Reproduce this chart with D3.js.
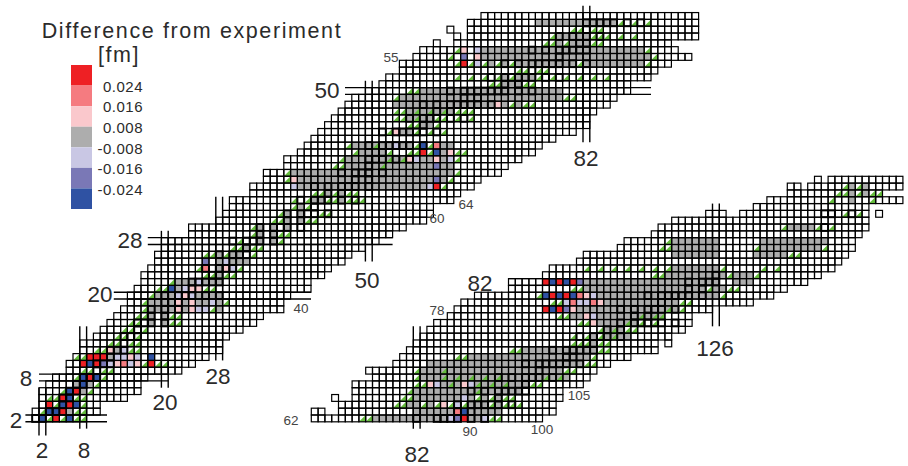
<!DOCTYPE html>
<html>
<head>
<meta charset="utf-8">
<script src="https://cdn.jsdelivr.net/npm/d3@7"></script>
<style>
  body { margin: 0; background: #fff; }
  text { font-family: "Liberation Sans", Arial, sans-serif; fill: #2b2b2b; }
</style>
</head>
<body>
<svg id="chart" width="908" height="466"></svg>
<script>
// rows of the nuclide chart: [Z, first N, last N]
const rows = [
  [2,1,8],[3,1,10],[4,2,10],[5,2,14],[6,2,16],[7,3,16],[8,4,17],[9,6,22],[10,6,24],[11,7,26],[12,8,28],[13,8,28],
  [14,10,29],[15,11,31],[16,12,33],[17,13,34],[18,14,37],[19,15,37],[20,15,38],[21,16,41],[22,17,41],[23,17,43],
  [24,18,44],[25,19,46],[26,19,47],[27,20,49],[28,20,51],[29,24,53],[30,24,55],[31,28,58],[32,29,59],[33,30,59],
  [34,30,62],[35,33,63],[36,33,65],[37,35,66],[38,35,69],[39,38,70],[40,38,72],[41,40,74],[42,41,75],[43,42,77],
  [44,43,80],[45,44,82],[46,45,82],[47,46,83],[48,47,85],[49,48,86],[50,50,88],[51,52,88],[52,53,91],[53,55,92],
  [54,55,94],[55,57,97],[56,58,95],[57,63,94],[57,60,60],[58,65,98],[58,63,63],[59,65,98],[59,62,62],[60,65,98],[61,67,98],
  [62,67,100],[63,71,102],[63,67,68],[64,71,102],[65,73,103],[65,70,70],[66,73,103],[67,73,106],[68,76,107],[69,75,108],
  [70,79,110],[71,80,113],[72,81,117],[73,82,117],[73,119,119],[74,83,119],[75,84,121],[76,85,122],[77,87,122],[78,88,125],
  [79,89,131],[80,91,134],[81,96,136],[82,96,139],[83,101,141],[84,102,143],[85,106,144],[86,107,145],[87,112,146],
  [88,113,146],[89,117,147],[90,118,148],[91,120,148],[92,130,148],[92,125,127],[92,150,150],[93,132,148],[94,134,153],
  [95,137,150],[96,137,138],[96,140,153],[97,141,141],[97,143,153]
];

// runs inside +-0.008 fm: [Z, first N, last N]
const grayRuns = [
  [3,6,6],[6,8,8],[7,7,7],[7,9,9],[11,12,12],[12,13,13],[16,18,18],[16,20,20],[17,18,18],[17,20,20],[18,18,21],[18,23,23],[18,28,28],
  [19,18,21],[19,23,23],[19,25,26],[19,28,28],[20,19,21],[20,25,28],[21,22,22],[22,22,24],[22,26,28],[23,28,28],[24,28,28],
  [25,28,28],[25,30,32],[26,28,28],[26,30,31],[27,32,32],[28,34,34],[28,36,36],[29,34,34],[29,36,36],[30,34,34],[30,36,36],[30,38,38],
  [31,38,38],[31,40,40],[32,38,38],[32,40,40],[33,40,40],[34,42,43],[34,46,46],[35,44,44],[35,46,46],
  [36,40,58],[37,40,59],[37,61,61],[38,39,62],[39,47,59],[39,61,62],[40,47,55],[40,58,59],[40,61,61],[41,49,52],[41,61,61],
  [42,48,53],[42,55,56],[42,61,62],[44,55,56],[45,58,59],[46,56,59],[47,56,62],[48,54,68],[48,70,70],[48,72,72],[49,55,78],[50,58,78],
  [51,70,72],[52,70,70],[52,72,74],[54,68,68],[54,70,70],[54,72,80],[54,82,90],[55,67,91],[56,67,90],[57,78,78],[57,80,82],[58,78,82],[60,75,86],
  [62,76,86],[62,90,91],[63,82,87],[63,90,94],[64,81,82],[64,84,84],[64,90,92],[64,94,94],[65,82,88],[65,90,90],[65,92,92],[65,94,94],
  [66,82,97],[67,86,88],[67,91,98],[68,83,104],[69,83,103],[70,84,106],[71,90,107],[72,98,108],[73,108,108],[74,108,108],[74,110,113],
  [75,110,112],[76,109,114],[77,105,106],[77,109,118],[78,106,120],[79,110,120],[80,109,126],[81,107,124],[81,126,127],[82,107,126],[82,129,131],
  [83,119,127],[83,129,131],[84,120,126],[86,120,126],[86,132,136],[87,120,126],[87,133,141],[88,120,126],[88,133,142],[90,137,140],[94,146,146],[95,146,146],[95,148,148],[96,146,146],[96,148,148]
];

// cells outside the gray band: [Z, N, level] with level 0..2 above, 4..6 below
const colored = [
  [2,2,6],[2,4,0],[2,6,6],[3,3,6],[3,4,6],[3,5,0],[4,3,0],[4,5,6],[4,6,0],[4,7,6],[5,5,0],[5,6,6],[6,6,6],[6,7,0],[7,8,6],
  [8,8,6],[8,9,0],[8,10,6],[10,8,0],[10,9,6],[10,10,0],[10,11,5],[10,12,4],[10,13,2],[10,14,1],[10,15,4],[10,16,2],[10,18,0],
  [11,9,0],[11,10,0],[11,11,0],[11,13,4],[11,14,4],[11,15,2],[11,16,4],[11,18,6],[12,12,2],[12,14,4],
  [18,22,2],[18,24,2],[18,25,4],[18,26,4],[19,22,2],[19,24,2],[19,27,4],[20,22,4],[20,23,2],[20,24,4],[21,21,6],[21,23,4],[21,24,2],[21,25,2],
  [22,25,4],[24,26,1],[24,29,2],[24,30,4],[25,26,5],[25,29,4],
  [36,39,4],[36,59,4],[36,60,0],[37,39,2],[37,60,5],[39,60,5],[40,56,2],[40,57,4],[40,60,2],[40,62,4],[41,58,0],[41,60,6],[41,62,2],
  [42,54,4],[42,58,6],[42,60,1],[44,54,2],[48,69,2],[54,64,0],[54,66,4],[55,64,5],[55,66,2],[56,64,2],[56,66,4],
  [62,87,4],[62,88,5],[62,89,0],[62,92,4],[63,88,1],[63,89,6],[64,86,2],[64,88,4],[65,89,4],[67,84,2],[67,85,4],[67,89,2],[67,90,4],
  [76,108,2],[77,107,2],[77,108,4],[78,101,0],[78,102,6],[78,103,0],[78,104,5],[78,105,2],
  [79,104,4],[79,105,1],[79,106,4],[79,107,4],[79,108,1],[79,109,2],
  [80,101,6],[80,102,0],[80,103,6],[80,104,0],[80,105,6],[80,106,1],[80,107,2],[80,108,4],
  [82,101,0],[82,102,6],[82,103,0],[82,104,6],[82,105,0],[82,106,5]
];

// half-green cells: [Z, N list]
const greens = [
  [2,[3,5,7,8]],[3,[2,7,8]],[4,[4,8]],[5,[3,4,7,8]],[6,[5,9]],[7,[10]],[8,[7,11]],[9,[8,9,11,12]],[10,[17,19,20]],[11,[7,8]],[12,[10,11,15,16]],
  [13,[12,13,15,16]],[14,[13,14,16]],[15,[14,15,17]],[16,[15,16,21,22]],[17,[16,17,21,22]],[18,[17,27]],[19,[17,29]],[20,[18]],[21,[19,20,26,27]],[22,[21]],
  [23,[26,27,29,30]],[24,[25,31]],[26,[26,27,29,33]],[27,[30,31,33,34]],[28,[31,37]],[29,[33,37,38]],[30,[33]],[31,[36,37,41,42]],[32,[37,43,44]],
  [33,[39,41]],[34,[39,41,44,45,47,48,49]],[35,[42,43,45,47,48]],[36,[61]],[37,[38,62]],[38,[38,63]],[39,[45,46,52]],[40,[46,53,55,63]],
  [41,[48,53,56,57,59,63,64]],[42,[47,51,57,59]],[44,[53,57,59,61]],[45,[56,57,60]],[46,[54,55,57,60,61,63,65]],[47,[54,55,57,59,61,63,64,65]],
  [48,[71,73,74]],[49,[54,79,80]],[50,[56,57]],[51,[68,69,73,74]],[52,[63,65,67,69,71,75,77,79,81,83,85]],[53,[72,73,75,76]],
  [54,[63,65,67,69,71,81,91]],[55,[62,92]],[56,[63,91]],[57,[76,77,79,83,84]],[58,[77,83,84,85,87,89]],[59,[80,81,83,84]],[60,[87,89,91]],
  [62,[74,75,93,94]],[64,[79,80,83,85,87,89,93,95,96,97]],[65,[80,81,91,93,95,96]],[66,[81,91]],[67,[82,83,87,91,93,95,99,100]],[68,[82,86,88,90,92,94,101,103]],
  [69,[82,86,104,105]],[70,[107,108]],[71,[88,89,108]],[72,[96,97,109,110]],[73,[105,106,107,109,110]],[74,[105,107,109,111]],[75,[109,111,113,114]],
  [76,[106,107,113,115,117]],[77,[103,104,115,117,118]],[78,[119,121]],[79,[102,103,121,122]],[80,[100,127]],[81,[105,106,125,128,129]],[83,[117,118,128,132]],
  [84,[107,109,111,113,115,117,119,127,133,135]],[86,[137,138]],[87,[118,119,132,142]],[88,[119]],[90,[136,141,143]],[92,[145,147]],[94,[143,149]],[95,[144,145,147,149,150]],[96,[145,147]]
];

// stable nuclei, drawn with a heavy outline: [Z, N list]
const stable = [
  [2,[1,2]],[3,[3,4]],[4,[5]],[5,[5,6]],[6,[6,7]],[7,[7,8]],[8,[8,9,10]],[9,[10]],[10,[10,11,12]],[11,[12]],[12,[12,13,14]],[13,[14]],[14,[14,15,16]],[15,[16]],
  [16,[16,17,18,20]],[17,[18,20]],[18,[18,20,22]],[19,[20,21,22]],[20,[20,22,23,24,26,28]],[21,[24]],[22,[24,25,26,27,28]],[23,[27,28]],[24,[26,28,29,30]],[25,[30]],
  [26,[28,30,31,32]],[27,[32]],[28,[30,32,33,34,36]],[29,[34,36]],[30,[34,36,37,38,40]],[31,[38,40]],[32,[38,40,41,42,44]],[33,[42]],[34,[40,42,43,44,46,48]],[35,[44,46]],
  [36,[42,44,46,47,48,50]],[37,[48,50]],[38,[46,48,49,50,52]],[39,[50]],[40,[50,51,52,54,56]],[41,[52]],[42,[50,52,53,54,55,56,58]],[44,[52,54,55,56,57,58,60]],[45,[58]],
  [46,[56,58,59,60,62,64]],[47,[60,62]],[48,[58,60,62,63,64,65,66,68]],[49,[64,66]],[50,[62,64,65,66,67,68,69,70,72,74]],[51,[70,72]],[52,[68,70,71,72,73,74,76,78]],[53,[74]],
  [54,[70,72,74,75,76,77,78,80,82]],[55,[78]],[56,[74,76,78,79,80,81,82]],[57,[81,82]],[58,[78,80,82,84]],[59,[82]],[60,[82,83,84,85,86,88,90]],
  [62,[82,85,86,87,88,90,92]],[63,[88,90]],[64,[88,90,91,92,93,94,96]],[65,[94]],[66,[90,92,94,95,96,97,98]],[67,[98]],[68,[94,96,98,99,100,102]],[69,[100]],
  [70,[98,100,101,102,103,104,106]],[71,[104,105]],[72,[102,104,105,106,107,108]],[73,[107,108]],[74,[106,108,109,110,112]],[75,[110,112]],[76,[112,114,115,116,117,118,120]],
  [77,[114,116]],[78,[112,114,116,117,118,120]],[79,[118]],[80,[116,118,119,120,121,122,124]],[81,[122,124]],[82,[122,124,125,126]],[83,[126]],[90,[142]],[92,[142,143,146]]
];

// magic number guide lines: [value, from, to]
const magicN = [[2,-1,6],[8,0,15],[20,6,29],[28,10,34],[50,24.5,51],[82,42,62],[82,60,75],[126,75,93]];
const magicZ = [[2,0,12],[8,2,21],[20,13,42],[28,18,54],[50,47,92],[82,96,130]];

const levelColors = ['#ee2024', '#f57b80', '#fac8cc', '#adadad', '#c9c7e4', '#7a78b6', '#2f52a3'];
const legendLabels = ['0.024', '0.016', '0.008', '-0.008', '-0.016', '-0.024'];

const bigLabels = [
  ['2', 16, 420], ['8', 26, 378], ['20', 100, 294], ['28', 130, 240], ['50', 327, 90],
  ['2', 42, 450], ['8', 84, 450], ['20', 165, 402], ['28', 218, 376], ['50', 367, 280],
  ['82', 586, 158], ['82', 480, 283], ['82', 417, 454], ['126', 715, 348]
];
const smallLabels = [
  ['55', 391, 57], ['64', 466, 204], ['60', 437, 218], ['40', 301, 308], ['78', 437, 310],
  ['105', 579, 395], ['90', 470, 431], ['100', 542, 429], ['62', 291, 420]
];

const svg = d3.select('#chart');

// two panels: light nuclei up to Z=61, heavy ones from Z=62
const xUpper = d3.scaleLinear().domain([2, 82]).range([39, 583]);
const yUpper = d3.scaleLinear().domain([2, 50]).range([415, 87.6]);
const xLower = d3.scaleLinear().domain([82, 126]).range([413.3, 712.5]);
const yLower = d3.scaleLinear().domain([62, 82]).range([415, 278.6]);
const xOf = z => (z < 62 ? xUpper : xLower);
const yOf = z => (z < 62 ? yUpper : yLower);
const cw = 6.8;
const ch = 6.82;

const cells = [];
rows.forEach(([z, a, b]) => d3.range(a, b + 1).forEach(n => cells.push({ z, n })));

const flat = list => list.flatMap(([z, ns]) => ns.map(n => ({ z, n })));
const grayCells = grayRuns.flatMap(([z, a, b]) => d3.range(a, b + 1).map(n => ({ z, n, level: 3 })));
const colorCells = colored.map(([z, n, level]) => ({ z, n, level }));

svg.append('g').selectAll('rect')
  .data(grayCells.concat(colorCells))
  .enter().append('rect')
  .attr('x', d => xOf(d.z)(d.n))
  .attr('y', d => yOf(d.z)(d.z))
  .attr('width', cw)
  .attr('height', ch)
  .attr('fill', d => levelColors[d.level]);

svg.append('g').selectAll('path')
  .data(flat(greens))
  .enter().append('path')
  .attr('fill', '#64bc3c')
  .attr('d', d => {
    const x = xOf(d.z)(d.n);
    const y = yOf(d.z)(d.z);
    return `M${x},${y + ch}L${x + cw},${y}L${x + cw},${y + ch}Z`;
  });

svg.append('g').selectAll('rect')
  .data(cells)
  .enter().append('rect')
  .attr('x', d => xOf(d.z)(d.n))
  .attr('y', d => yOf(d.z)(d.z))
  .attr('width', cw)
  .attr('height', ch)
  .attr('fill', 'none')
  .attr('stroke', '#000')
  .attr('stroke-width', 1.2);

svg.append('g').selectAll('rect')
  .data(flat(stable))
  .enter().append('rect')
  .attr('x', d => xOf(d.z)(d.n))
  .attr('y', d => yOf(d.z)(d.z))
  .attr('width', cw)
  .attr('height', ch)
  .attr('fill', 'none')
  .attr('stroke', '#000')
  .attr('stroke-width', 1.9);

// guide lines run along both edges of the magic column or row
const guides = svg.append('g').attr('stroke', '#000').attr('stroke-width', 1.4);
magicN.forEach(([n, from, to]) => {
  const x = from >= 60 ? xLower : xUpper;
  const y = from >= 60 ? yLower : yUpper;
  [0, cw].forEach(off => {
    guides.append('line')
      .attr('x1', x(n) + off).attr('x2', x(n) + off)
      .attr('y1', y(from)).attr('y2', y(to));
  });
});
magicZ.forEach(([z, from, to]) => {
  [0, ch].forEach(off => {
    guides.append('line')
      .attr('x1', xOf(z)(from)).attr('x2', xOf(z)(to))
      .attr('y1', yOf(z)(z) + off).attr('y2', yOf(z)(z) + off);
  });
});

// legend
const legendY = d3.scaleBand().domain(d3.range(levelColors.length)).range([65, 209]);
svg.append('g').selectAll('rect')
  .data(levelColors)
  .enter().append('rect')
  .attr('x', 71)
  .attr('y', (d, i) => legendY(i))
  .attr('width', 21)
  .attr('height', legendY.bandwidth())
  .attr('fill', d => d);

svg.append('g').selectAll('text')
  .data(legendLabels)
  .enter().append('text')
  .attr('x', 143)
  .attr('y', (d, i) => legendY(i) + legendY.bandwidth() + 1)
  .attr('dy', '0.35em')
  .attr('text-anchor', 'end')
  .attr('font-size', 15)
  .attr('letter-spacing', 0.5)
  .text(d => d);

svg.append('text')
  .attr('x', 192).attr('y', 38)
  .attr('text-anchor', 'middle')
  .attr('font-size', 21.5)
  .attr('letter-spacing', 1.6)
  .text('Difference from experiment');
svg.append('text')
  .attr('x', 119).attr('y', 62)
  .attr('text-anchor', 'middle')
  .attr('font-size', 21.5)
  .attr('letter-spacing', 1.6)
  .text('[fm]');

svg.append('g').selectAll('text')
  .data(bigLabels)
  .enter().append('text')
  .attr('x', d => d[1])
  .attr('y', d => d[2])
  .attr('dy', '0.35em')
  .attr('text-anchor', 'middle')
  .attr('font-size', 22.5)
  .text(d => d[0]);

svg.append('g').selectAll('text')
  .data(smallLabels)
  .enter().append('text')
  .attr('x', d => d[1])
  .attr('y', d => d[2])
  .attr('dy', '0.35em')
  .attr('text-anchor', 'middle')
  .attr('font-size', 13.5)
  .style('fill', '#444')
  .text(d => d[0]);
</script>
</body>
</html>
